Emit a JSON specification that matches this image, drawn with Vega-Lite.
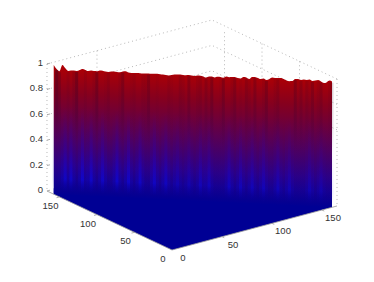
{"$schema":"https://vega.github.io/schema/vega-lite/v6.json","width":374,"height":282,"padding":0,"autosize":"none","background":"white","config":{"view":{"stroke":null}},
"datasets":{
"wall":[{"x":0,"y":157.7,"z":1.017,"b":0.1,"d":0},{"x":1.7,"y":156.1,"z":0.986,"b":0.1,"d":0.5},{"x":3.3,"y":154.4,"z":0.971,"b":0.15,"d":0.25},{"x":5,"y":152.8,"z":1.02,"b":0.35,"d":0},{"x":6.6,"y":151.2,"z":0.997,"b":0.75,"d":0},{"x":8.3,"y":149.6,"z":0.975,"b":0.3,"d":0.1},{"x":9.9,"y":147.9,"z":0.98,"b":0.75,"d":0},{"x":11.6,"y":146.3,"z":0.981,"b":0.3,"d":0.15},{"x":13.2,"y":144.7,"z":0.978,"b":0.1,"d":0.4},{"x":14.9,"y":143,"z":0.987,"b":0.35,"d":0},{"x":16.5,"y":141.4,"z":0.996,"b":0.8,"d":0},{"x":18.2,"y":139.8,"z":0.989,"b":0.25,"d":0.1},{"x":19.8,"y":138.2,"z":0.982,"b":0.35,"d":0},{"x":21.5,"y":136.5,"z":0.987,"b":0.8,"d":0},{"x":23.1,"y":134.9,"z":0.984,"b":0.3,"d":0.1},{"x":24.8,"y":133.3,"z":0.984,"b":0.1,"d":0.35},{"x":26.4,"y":131.6,"z":0.992,"b":0.35,"d":0},{"x":28.1,"y":130,"z":0.991,"b":0.75,"d":0},{"x":29.8,"y":128.4,"z":0.985,"b":0.3,"d":0.05},{"x":31.4,"y":126.7,"z":0.982,"b":0.1,"d":0.15},{"x":33.1,"y":125.1,"z":0.987,"b":0.1,"d":0},{"x":34.7,"y":123.5,"z":0.989,"b":0.35,"d":0},{"x":36.4,"y":121.9,"z":0.985,"b":0.8,"d":0},{"x":38,"y":120.2,"z":0.984,"b":0.3,"d":0.1},{"x":39.7,"y":118.6,"z":0.991,"b":0.1,"d":0.3},{"x":41.3,"y":117,"z":0.994,"b":0.35,"d":0},{"x":43,"y":115.3,"z":0.985,"b":0.8,"d":0},{"x":44.6,"y":113.7,"z":0.984,"b":0.3,"d":0.05},{"x":46.3,"y":112.1,"z":0.984,"b":0.1,"d":0.1},{"x":47.9,"y":110.5,"z":0.985,"b":0.35,"d":0},{"x":49.6,"y":108.8,"z":0.984,"b":0.75,"d":0},{"x":51.2,"y":107.2,"z":0.983,"b":0.3,"d":0.1},{"x":52.9,"y":105.6,"z":0.984,"b":0.1,"d":0.1},{"x":54.5,"y":103.9,"z":0.985,"b":0.1,"d":0.3},{"x":56.2,"y":102.3,"z":0.984,"b":0.35,"d":0},{"x":57.9,"y":100.7,"z":0.986,"b":0.75,"d":0},{"x":59.5,"y":99,"z":0.987,"b":0.3,"d":0.05},{"x":61.2,"y":97.4,"z":0.984,"b":0.1,"d":0},{"x":62.8,"y":95.8,"z":0.982,"b":0.35,"d":0},{"x":64.5,"y":94.2,"z":0.98,"b":0.7,"d":0},{"x":66.1,"y":92.5,"z":0.978,"b":0.3,"d":0.1},{"x":67.8,"y":90.9,"z":0.982,"b":0.1,"d":0.05},{"x":69.4,"y":89.3,"z":0.987,"b":0.3,"d":0},{"x":71.1,"y":87.6,"z":0.989,"b":0.5,"d":0},{"x":72.7,"y":86,"z":0.989,"b":0.25,"d":0.15},{"x":74.4,"y":84.4,"z":0.986,"b":0.1,"d":0.1},{"x":76,"y":82.8,"z":0.985,"b":0.25,"d":0},{"x":77.7,"y":81.1,"z":0.988,"b":0.5,"d":0.25},{"x":79.3,"y":79.5,"z":0.985,"b":0.25,"d":0},{"x":81,"y":77.9,"z":0.982,"b":0.1,"d":0},{"x":82.7,"y":76.2,"z":0.987,"b":0.25,"d":0.1},{"x":84.3,"y":74.6,"z":0.988,"b":0.6,"d":0.15},{"x":86,"y":73,"z":0.982,"b":0.25,"d":0},{"x":87.6,"y":71.4,"z":0.975,"b":0.3,"d":0.2},{"x":89.3,"y":69.7,"z":0.984,"b":0.6,"d":0.05},{"x":90.9,"y":68.1,"z":0.985,"b":0.25,"d":0.3},{"x":92.6,"y":66.5,"z":0.978,"b":0.1,"d":0},{"x":94.2,"y":64.8,"z":0.985,"b":0.1,"d":0},{"x":95.9,"y":63.2,"z":0.984,"b":0.1,"d":0.05},{"x":97.5,"y":61.6,"z":0.979,"b":0.1,"d":0.3},{"x":99.2,"y":60,"z":0.99,"b":0.3,"d":0},{"x":100.8,"y":58.3,"z":0.987,"b":0.65,"d":0},{"x":102.5,"y":56.7,"z":0.988,"b":0.3,"d":0.1},{"x":104.1,"y":55.1,"z":0.99,"b":0.1,"d":0.25},{"x":105.8,"y":53.4,"z":0.983,"b":0.3,"d":0},{"x":107.4,"y":51.8,"z":0.981,"b":0.6,"d":0.05},{"x":109.1,"y":50.2,"z":0.993,"b":0.25,"d":0},{"x":110.8,"y":48.6,"z":0.99,"b":0.1,"d":0.2},{"x":112.4,"y":46.9,"z":0.979,"b":0.3,"d":0.1},{"x":114.1,"y":45.3,"z":0.996,"b":0.6,"d":0},{"x":115.7,"y":43.7,"z":0.997,"b":0.25,"d":0.25},{"x":117.4,"y":42,"z":0.99,"b":0.1,"d":0},{"x":119,"y":40.4,"z":0.983,"b":0.3,"d":0},{"x":120.7,"y":38.8,"z":0.988,"b":0.6,"d":0.1},{"x":122.3,"y":37.2,"z":0.978,"b":0.25,"d":0.3},{"x":124,"y":35.5,"z":0.987,"b":0.1,"d":0},{"x":125.6,"y":33.9,"z":1,"b":0.1,"d":0},{"x":127.3,"y":32.3,"z":0.997,"b":0.3,"d":0.1},{"x":128.9,"y":30.6,"z":0.998,"b":0.6,"d":0.2},{"x":130.6,"y":29,"z":1,"b":0.25,"d":0},{"x":132.2,"y":27.4,"z":0.992,"b":0.1,"d":0},{"x":133.9,"y":25.8,"z":0.981,"b":0.3,"d":0},{"x":135.5,"y":24.1,"z":0.978,"b":0.55,"d":0},{"x":137.2,"y":22.5,"z":0.979,"b":0.25,"d":0},{"x":138.9,"y":20.9,"z":0.996,"b":0.1,"d":0.3},{"x":140.5,"y":19.2,"z":0.997,"b":0.1,"d":0.05},{"x":142.2,"y":17.6,"z":0.991,"b":0.1,"d":0.2},{"x":143.8,"y":16,"z":0.996,"b":0.1,"d":0},{"x":145.5,"y":14.3,"z":0.993,"b":0.25,"d":0.15},{"x":147.1,"y":12.7,"z":0.998,"b":0.5,"d":0.05},{"x":148.8,"y":11.1,"z":0.987,"b":0.25,"d":0.25},{"x":150.4,"y":9.5,"z":0.992,"b":0.1,"d":0},{"x":152.1,"y":7.8,"z":0.997,"b":0.25,"d":0.1},{"x":153.7,"y":6.2,"z":0.986,"b":0.45,"d":0.2},{"x":155.4,"y":4.6,"z":0.975,"b":0.2,"d":0},{"x":157,"y":2.9,"z":0.984,"b":0.1,"d":0},{"x":158.7,"y":1.3,"z":0.997,"b":0.1,"d":0.1},{"x":160,"y":0,"z":0.99,"b":0.1,"d":0.2}],
"floor":[{"x":0,"y":157.7,"xw":0,"yw":157.7},{"x":0,"y":0,"xw":68,"yw":90.7},{"x":160,"y":0,"xw":160,"yw":0}],
"grid":[
{"s":"top","o":0,"x":0,"y":166.7,"z":1},{"s":"top","o":1,"x":165,"y":166.7,"z":1},{"s":"top","o":2,"x":165,"y":0,"z":1},
{"s":"z8","o":0,"x":0,"y":166.7,"z":0.8},{"s":"z8","o":1,"x":165,"y":166.7,"z":0.8},{"s":"z8","o":2,"x":165,"y":0,"z":0.8},
{"s":"z6","o":0,"x":0,"y":166.7,"z":0.6},{"s":"z6","o":1,"x":165,"y":166.7,"z":0.6},{"s":"z6","o":2,"x":165,"y":0,"z":0.6},
{"s":"left","o":0,"x":0,"y":166.7,"z":1},{"s":"left","o":1,"x":0,"y":166.7,"z":0},
{"s":"right","o":0,"x":165,"y":0,"z":1},{"s":"right","o":1,"x":165,"y":0,"z":0},
{"s":"x50","o":0,"x":50,"y":166.7,"z":1},{"s":"x50","o":1,"x":50,"y":166.7,"z":0.6},
{"s":"y150","o":0,"x":165,"y":150,"z":0.95},{"s":"y150","o":1,"x":165,"y":150,"z":0.6},
{"s":"y100","o":0,"x":165,"y":100,"z":1},{"s":"y100","o":1,"x":165,"y":100,"z":0.6},
{"s":"y50","o":0,"x":165,"y":50,"z":1},{"s":"y50","o":1,"x":165,"y":50,"z":0.6}],
"edges":[
{"s":"floor","o":0,"x":0,"y":166.7,"z":0},{"s":"floor","o":1,"x":0,"y":0,"z":0},{"s":"floor","o":2,"x":165,"y":0,"z":0},
{"s":"ty50","o":0,"x":0,"y":50,"z":0},{"s":"ty50","o":1,"x":-3,"y":50,"z":0},
{"s":"ty100","o":0,"x":0,"y":100,"z":0},{"s":"ty100","o":1,"x":-3,"y":100,"z":0},
{"s":"ty150","o":0,"x":0,"y":150,"z":0},{"s":"ty150","o":1,"x":-3,"y":150,"z":0},
{"s":"tx50","o":0,"x":50,"y":0,"z":0},{"s":"tx50","o":1,"x":50,"y":-3,"z":0},
{"s":"tx100","o":0,"x":100,"y":0,"z":0},{"s":"tx100","o":1,"x":100,"y":-3,"z":0},
{"s":"tx150","o":0,"x":150,"y":0,"z":0},{"s":"tx150","o":1,"x":150,"y":-3,"z":0},
{"s":"tz0","o":0,"x":0,"y":166.7,"z":0},{"s":"tz0","o":1,"x":3,"y":166.7,"z":0},
{"s":"tz2","o":0,"x":0,"y":166.7,"z":0.2},{"s":"tz2","o":1,"x":3,"y":166.7,"z":0.2},
{"s":"tz4","o":0,"x":0,"y":166.7,"z":0.4},{"s":"tz4","o":1,"x":3,"y":166.7,"z":0.4},
{"s":"tz6","o":0,"x":0,"y":166.7,"z":0.6},{"s":"tz6","o":1,"x":3,"y":166.7,"z":0.6},
{"s":"tz8","o":0,"x":0,"y":166.7,"z":0.8},{"s":"tz8","o":1,"x":3,"y":166.7,"z":0.8},
{"s":"tz1","o":0,"x":0,"y":166.7,"z":1},{"s":"tz1","o":1,"x":3,"y":166.7,"z":1}],
"zlabels":[{"x":0,"y":166.7,"z":0,"t":"0"},{"x":0,"y":166.7,"z":0.2,"t":"0.2"},{"x":0,"y":166.7,"z":0.4,"t":"0.4"},{"x":0,"y":166.7,"z":0.6,"t":"0.6"},{"x":0,"y":166.7,"z":0.8,"t":"0.8"},{"x":0,"y":166.7,"z":1,"t":"1"}],
"ylabels":[{"x":0,"y":0,"z":0,"t":"0"},{"x":0,"y":50,"z":0,"t":"50"},{"x":0,"y":100,"z":0,"t":"100"},{"x":0,"y":150,"z":0,"t":"150"}],
"xlabels":[{"x":0,"y":0,"z":0,"t":"0"},{"x":50,"y":0,"z":0,"t":"50"},{"x":100,"y":0,"z":0,"t":"100"},{"x":150,"y":0,"z":0,"t":"150"}]
},
"layer":[
{"data":{"name":"grid"},"transform":[{"calculate":"172+datum.x-0.75*datum.y","as":"u"},{"calculate":"250-0.2667*datum.x-0.354*datum.y-127*datum.z","as":"v"}],
"mark":{"type":"line","stroke":"#888888","strokeWidth":1,"strokeDash":[1,3],"opacity":0.6},
"encoding":{"x":{"field":"u","type":"quantitative","scale":{"domain":[0,374],"nice":false,"zero":false},"axis":null},"y":{"field":"v","type":"quantitative","scale":{"domain":[282,0],"nice":false,"zero":false},"axis":null},"detail":{"field":"s"},"order":{"field":"o"}}},
{"data":{"name":"floor"},"transform":[{"calculate":"172+datum.x-0.75*datum.y","as":"u"},{"calculate":"250-0.2667*datum.x-0.354*datum.y","as":"v"},{"calculate":"250-0.2667*datum.xw-0.354*datum.yw-6","as":"vw"}],
"mark":{"type":"area","fill":"#000094","interpolate":"linear"},
"encoding":{"x":{"field":"u","type":"quantitative","scale":{"domain":[0,374],"nice":false,"zero":false},"axis":null},"y":{"field":"v","type":"quantitative","stack":null,"scale":{"domain":[282,0],"nice":false,"zero":false},"axis":null},"y2":{"field":"vw"}}},
{"data":{"name":"wall"},"transform":[{"calculate":"172+datum.x-0.75*datum.y","as":"u"},{"calculate":"250-0.2667*datum.x-0.354*datum.y","as":"vb"},{"calculate":"datum.vb-127*datum.z","as":"vt"}],
"mark":{"type":"area","interpolate":"monotone","fill":{"gradient":"linear","x1":0.045,"y1":0,"x2":-0.045,"y2":1,"stops":[{"offset":0,"color":"#b00002"},{"offset":0.2,"color":"#86001e"},{"offset":0.45,"color":"#5a0050"},{"offset":0.7,"color":"#2c0080"},{"offset":0.91,"color":"#000094"},{"offset":1,"color":"#000094"}]}},
"encoding":{"x":{"field":"u","type":"quantitative","scale":{"domain":[0,374],"nice":false,"zero":false},"axis":null},"y":{"field":"vt","type":"quantitative","stack":null,"scale":{"domain":[282,0],"nice":false,"zero":false},"axis":null},"y2":{"field":"vb"}}},
{"data":{"name":"wall"},"transform":[{"calculate":"172+datum.x-0.75*datum.y-1.5","as":"u0"},{"calculate":"172+datum.x-0.75*datum.y+1.5","as":"u1"},{"calculate":"250-0.2667*datum.x-0.354*datum.y-3","as":"vb"},{"calculate":"datum.vb-85","as":"vt"}],
"mark":{"type":"rect","fill":{"gradient":"linear","x1":0,"y1":0,"x2":0,"y2":1,"stops":[{"offset":0,"color":"rgba(30,0,230,0)"},{"offset":0.5,"color":"rgba(30,0,230,0.35)"},{"offset":0.85,"color":"rgba(10,10,245,0.7)"},{"offset":1,"color":"rgba(0,0,200,0)"}]}},
"encoding":{"x":{"field":"u0","type":"quantitative","scale":{"domain":[0,374],"nice":false,"zero":false},"axis":null},"x2":{"field":"u1"},"y":{"field":"vt","type":"quantitative","scale":{"domain":[282,0],"nice":false,"zero":false},"axis":null},"y2":{"field":"vb"},"opacity":{"field":"b","type":"quantitative","scale":null,"legend":null}}},
{"data":{"name":"wall"},"transform":[{"calculate":"172+datum.x-0.75*datum.y-1.5","as":"u0"},{"calculate":"172+datum.x-0.75*datum.y+1.5","as":"u1"},{"calculate":"250-0.2667*datum.x-0.354*datum.y-127*datum.z+1","as":"vt"},{"calculate":"datum.vt+70","as":"vb"}],
"mark":{"type":"rect","fill":{"gradient":"linear","x1":0,"y1":0,"x2":0,"y2":1,"stops":[{"offset":0,"color":"rgba(50,0,30,0.9)"},{"offset":0.6,"color":"rgba(50,0,50,0.6)"},{"offset":1,"color":"rgba(50,0,60,0)"}]}},
"encoding":{"x":{"field":"u0","type":"quantitative","scale":{"domain":[0,374],"nice":false,"zero":false},"axis":null},"x2":{"field":"u1"},"y":{"field":"vt","type":"quantitative","scale":{"domain":[282,0],"nice":false,"zero":false},"axis":null},"y2":{"field":"vb"},"opacity":{"field":"d","type":"quantitative","scale":null,"legend":null}}},
{"data":{"name":"edges"},"transform":[{"calculate":"172+datum.x-0.75*datum.y","as":"u"},{"calculate":"250-0.2667*datum.x-0.354*datum.y-127*datum.z","as":"v"}],
"mark":{"type":"line","stroke":"#999999","strokeWidth":0.8},
"encoding":{"x":{"field":"u","type":"quantitative","scale":{"domain":[0,374],"nice":false,"zero":false},"axis":null},"y":{"field":"v","type":"quantitative","scale":{"domain":[282,0],"nice":false,"zero":false},"axis":null},"detail":{"field":"s"},"order":{"field":"o"}}},
{"data":{"name":"zlabels"},"transform":[{"calculate":"172+datum.x-0.75*datum.y","as":"u"},{"calculate":"250-0.2667*datum.x-0.354*datum.y-127*datum.z","as":"v"}],
"mark":{"type":"text","font":"Liberation Sans","fontSize":9.5,"fill":"#333333","align":"right","baseline":"middle","dx":-4,"dy":-1},
"encoding":{"x":{"field":"u","type":"quantitative","scale":{"domain":[0,374],"nice":false,"zero":false},"axis":null},"y":{"field":"v","type":"quantitative","scale":{"domain":[282,0],"nice":false,"zero":false},"axis":null},"text":{"field":"t"}}},
{"data":{"name":"ylabels"},"transform":[{"calculate":"172+datum.x-0.75*datum.y","as":"u"},{"calculate":"250-0.2667*datum.x-0.354*datum.y-127*datum.z","as":"v"}],
"mark":{"type":"text","font":"Liberation Sans","fontSize":9.5,"fill":"#333333","align":"center","baseline":"middle","dx":-9,"dy":9},
"encoding":{"x":{"field":"u","type":"quantitative","scale":{"domain":[0,374],"nice":false,"zero":false},"axis":null},"y":{"field":"v","type":"quantitative","scale":{"domain":[282,0],"nice":false,"zero":false},"axis":null},"text":{"field":"t"}}},
{"data":{"name":"xlabels"},"transform":[{"calculate":"172+datum.x-0.75*datum.y","as":"u"},{"calculate":"250-0.2667*datum.x-0.354*datum.y-127*datum.z","as":"v"}],
"mark":{"type":"text","font":"Liberation Sans","fontSize":9.5,"fill":"#333333","align":"center","baseline":"middle","dx":11,"dy":8},
"encoding":{"x":{"field":"u","type":"quantitative","scale":{"domain":[0,374],"nice":false,"zero":false},"axis":null},"y":{"field":"v","type":"quantitative","scale":{"domain":[282,0],"nice":false,"zero":false},"axis":null},"text":{"field":"t"}}}
]}
